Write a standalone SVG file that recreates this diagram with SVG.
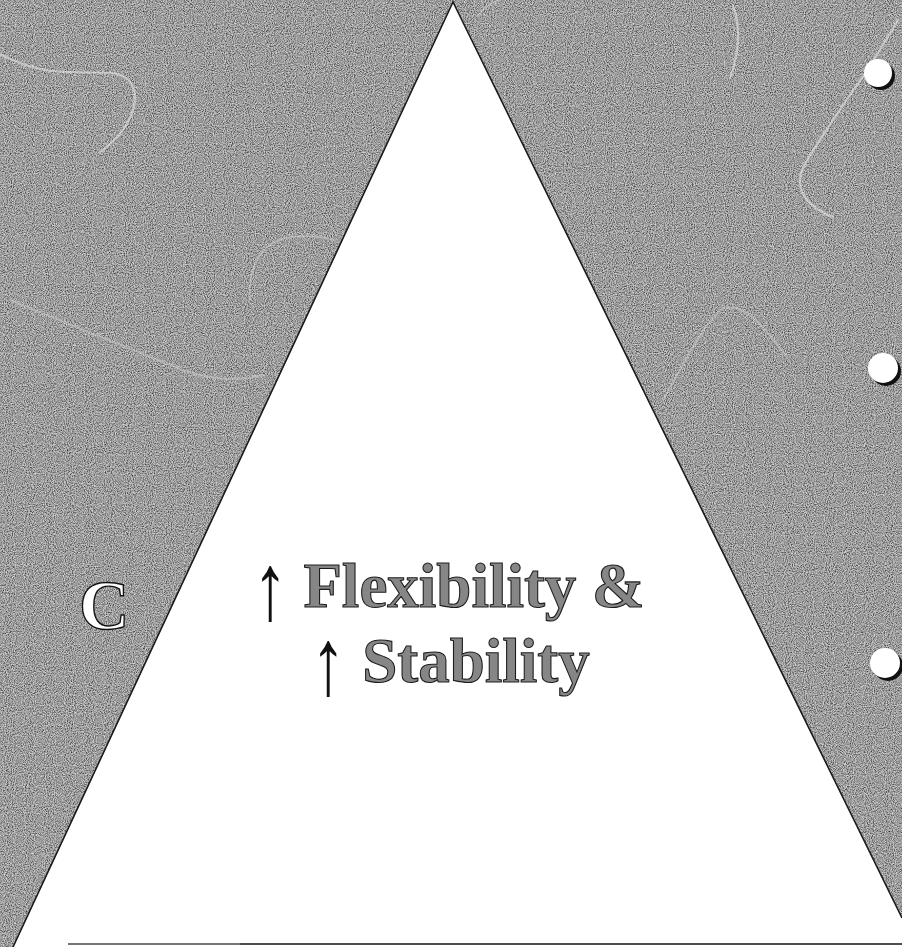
<svg xmlns="http://www.w3.org/2000/svg" width="902" height="947" viewBox="0 0 902 947">
  <style>
    .swirl { fill: none; stroke: #e6e6e6; stroke-width: 2.2; stroke-linecap: round; opacity: 0.6; }
    .swirl2 { fill: none; stroke: #d8d8d8; stroke-width: 2; stroke-linecap: round; opacity: 0.45; }
    .label { font-family: "Liberation Serif", "Times New Roman", serif; font-weight: bold; font-size: 63px; fill: #868686; stroke: #1c1c1c; stroke-width: 1.1; text-anchor: middle; }
    .arrow { font-family: "Liberation Serif", "Times New Roman", serif; font-size: 63px; fill: #111111; text-anchor: middle; }
    .hole { fill: #ffffff; }
    .hole-shadow { fill: #111111; }
  </style>
  <defs>
    <filter id="grain" x="0" y="0" width="100%" height="100%">
      <feTurbulence type="fractalNoise" baseFrequency="0.95" numOctaves="1" seed="3" result="n"/>
      <feColorMatrix in="n" type="matrix" values="0 0 0 0 0  0 0 0 0 0  0 0 0 0 0  1.6 0 0 0 -0.6" result="a"/>
      <feComposite in="a" in2="SourceGraphic" operator="in"/>
    </filter>
    <filter id="grain2" x="0" y="0" width="100%" height="100%">
      <feTurbulence type="fractalNoise" baseFrequency="0.9" numOctaves="1" seed="11" result="n"/>
      <feColorMatrix in="n" type="matrix" values="0 0 0 0 1  0 0 0 0 1  0 0 0 0 1  0 1.6 0 0 -0.62" result="a"/>
      <feComposite in="a" in2="SourceGraphic" operator="in"/>
    </filter>
  </defs>

  <!-- background -->
  <g id="background">
    <rect x="0" y="0" width="902" height="947" fill="#a5a5a5"/>
    <rect x="0" y="0" width="902" height="947" fill="#000" filter="url(#grain)"/>
    <rect x="0" y="0" width="902" height="947" fill="#fff" filter="url(#grain2)"/>
    <path class="swirl" d="M0,54 C20,64 40,72 70,72 L112,73 C135,76 140,95 130,118 C122,135 110,145 100,152"/>
    <path class="swirl2" d="M10,300 C60,320 120,345 175,367 C205,380 240,382 262,375"/>
    <path class="swirl2" d="M250,300 C248,270 258,245 285,238 C305,234 320,236 335,240"/>
    <path class="swirl" d="M733,6 C740,25 740,50 730,78"/>
    <path class="swirl" d="M898,20 C880,50 865,75 850,95 C830,125 812,150 803,168 C795,185 802,205 833,217"/>
    <path class="swirl2" d="M663,400 C680,370 700,330 720,310 C740,300 760,320 785,355"/>
    <path class="swirl2" d="M478,16 C485,6 492,2 500,0"/>
  </g>

  <!-- triangle -->
  <g id="triangle">
    <polygon points="453,2 13,947 902,947 902,918" fill="#ffffff"/>
    <path d="M13,947 L453,2 L902,918" fill="none" stroke="#1a1a1a" stroke-width="1.6"/>
    <line x1="68" y1="944" x2="902" y2="944" stroke="#555555" stroke-width="2.2" opacity="0.8"/>
    <line x1="240" y1="944" x2="902" y2="944" stroke="#2a2a2a" stroke-width="1.6" opacity="0.7"/>
  </g>

  <!-- holes -->
  <g id="holes">
    <circle class="hole-shadow" cx="881" cy="76" r="14"/>
    <circle class="hole" cx="878" cy="73" r="14"/>
    <circle class="hole-shadow" cx="886" cy="371" r="15"/>
    <circle class="hole" cx="883" cy="368" r="15"/>
    <circle class="hole-shadow" cx="888" cy="666" r="15"/>
    <circle class="hole" cx="885" cy="663" r="15"/>
  </g>

  <!-- C letter -->
  <g id="letter-c">
    <text x="79" y="629" font-family="'Liberation Serif', 'Times New Roman', serif" font-weight="bold" font-size="70" fill="#ffffff" stroke="#111111" stroke-width="1.4">C</text>
  </g>

  <!-- label -->
  <g id="label">
    <text class="arrow" transform="translate(270,605) scale(1.1,1.5)" x="0" y="9.5">↑</text>
    <text class="label" x="474" y="607">Flexibility &amp;</text>
    <text class="arrow" transform="translate(328,680) scale(1.1,1.5)" x="0" y="9.5">↑</text>
    <text class="label" x="476" y="682">Stability</text>
  </g>
</svg>
